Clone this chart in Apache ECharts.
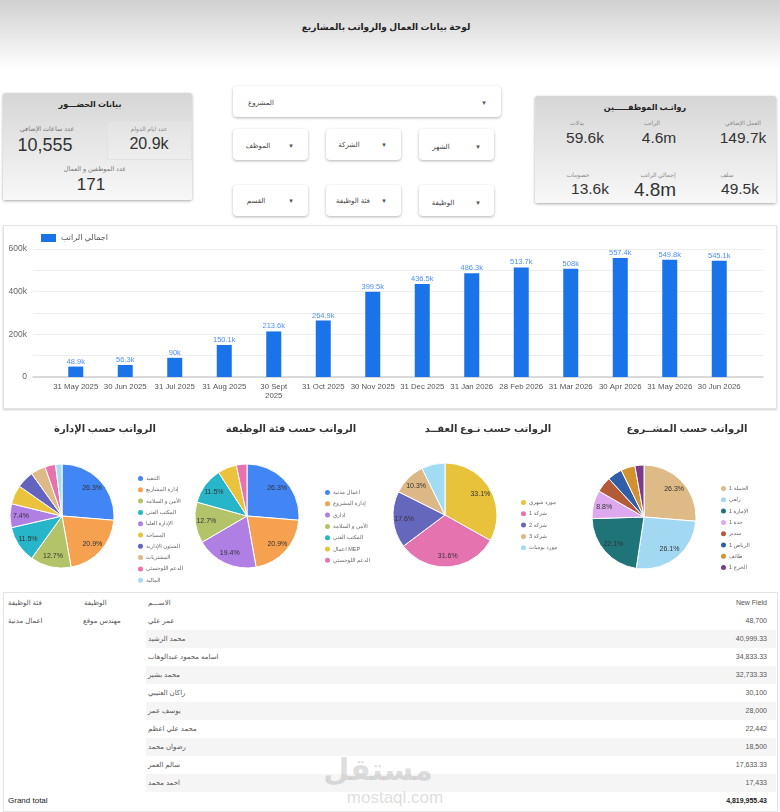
<!DOCTYPE html>
<html>
<head>
<meta charset="utf-8">
<script src="https://cdn.jsdelivr.net/npm/echarts@6/dist/echarts.min.js"></script>
<style>
  body { margin: 0; background: #fff; font-family: Arial, "Liberation Sans", "DejaVu Sans", sans-serif; }
  #page { position: relative; width: 780px; height: 812px; overflow: hidden; background: #fff; }
  .abs { position: absolute; }
  .t { position: absolute; transform: translate(-50%, -50%); white-space: nowrap; line-height: 1; }
  .hdr { left: 0; top: 0; width: 780px; height: 70px; background: linear-gradient(#d0d0d0, #fff); }
  .card { background: linear-gradient(#d6d6d6, #f8f8f8); box-shadow: 0 1px 3px rgba(0,0,0,.35); border-radius: 2px; }
  .dd { background: #fff; border-radius: 4px; box-shadow: 0 1px 3px rgba(0,0,0,.3); }
  .panel { background: #fff; border: 1px solid #e4e4e4; box-shadow: 0 1px 2px rgba(0,0,0,.2); }
  .stripe { background: #f5f5f5; }
  #chart { position: absolute; left: 0; top: 220px; width: 780px; height: 372px; }
</style>
</head>
<body>
<div id="page">
  <div class="abs hdr"></div>
  <div class="t" style="left:386px;top:27px;font-size:9px;font-weight:bold;color:#222;">لوحة بيانات العمال والرواتب بالمشاريع</div>

  <div class="abs card" style="left:3px;top:93px;width:189px;height:107px;"></div>
  <div class="abs" style="left:107px;top:121px;width:83px;height:37px;border:1px solid #e2e2e2;background:rgba(255,255,255,.15);"></div>
  <div id="attend"></div>

  <div class="abs card" style="left:535px;top:96px;width:241px;height:107px;"></div>
  <div id="pay"></div>

  <div id="filters"></div>

  <div class="abs panel" style="left:3px;top:225px;width:772px;height:182px;"></div>
  <div class="abs" style="left:3px;top:592px;width:773px;height:218px;border:1px solid #e4e4e4;"></div>
  <div id="table"></div>
  <div class="t" style="left:378px;top:770px;font-size:30px;font-weight:bold;color:rgba(140,140,140,.3);">مستقل</div>
  <div class="t" style="left:395px;top:797px;font-size:17px;color:rgba(140,140,140,.3);">mostaql.com</div>

  <div id="chart"></div>
</div>
<script>
// ---- data ----
const months = ["31 May 2025", "30 Jun 2025", "31 Jul 2025", "31 Aug 2025", "30 Sept 2025", "31 Oct 2025", "30 Nov 2025",
  "31 Dec 2025", "31 Jan 2026", "28 Feb 2026", "31 Mar 2026", "30 Apr 2026", "31 May 2026", "30 Jun 2026"];
const totalSalary = [48900, 56300, 90000, 150100, 213600, 264900, 399500, 436500, 486300, 513700, 508000, 557400, 549800, 545100];

const deptNames = ["التنفيذ", "إدارة المشاريع", "الأمن و السلامة", "المكتب الفني", "الإدارة العليا", "المساحة", "الشئون الإدارية", "المشتريات", "الدعم اللوجستي", "المالية"];
const deptShare = [26.3, 20.9, 12.7, 11.5, 7.4, 5.9, 5.4, 4.6, 3.3, 2.0];
const jobCatNames = ["اعمال مدنية", "إدارة المشروع", "اداري", "الأمن و السلامة", "المكتب الفني", "اعمال MEP", "الدعم اللوجستي"];
const jobCatShare = [26.3, 20.9, 19.4, 12.7, 11.5, 5.9, 3.3];
const contractNames = ["مورد شهري", "شركة 1", "شركة 2", "شركة 3", "مورد يوميات"];
const contractShare = [33.1, 31.6, 17.6, 10.3, 7.3];
const projectNames = ["الجبيلة 1", "زلفي", "الإمارة 1", "جدة 1", "سدير", "الرياض 1", "طائف", "الخرج 1"];
const projectShare = [26.3, 26.1, 22.1, 8.8, 4.9, 4.6, 4.4, 2.8];

const attendLabels = ["عدد ساعات الإضافي", "عدد ايام الدوام", "عدد الموظفين و العمال"];
const attendValues = ["10,555", "20.9k", "171"];
const payLabels = ["بدلات", "الراتب", "العمل الإضافي", "خصومات", "إجمالي الراتب", "سلف"];
const payValues = ["59.6k", "4.6m", "149.7k", "13.6k", "4.8m", "49.5k"];
const filterLabels = ["المشروع", "الموظف", "الشركة", "الشهر", "القسم", "فئة الوظيفة", "الوظيفة"];

const tableHeader = ["فئة الوظيفة", "الوظيفة", "الاســـم", "New Field"];
const tableCategory = "اعمال مدنية";
const tableJob = "مهندس موقع";
const tableNames = ["عمر علي", "محمد الرشيد", "اسامه محمود عبدالوهاب", "محمد بشير", "راكان العتيبي", "يوسف عمر", "محمد علي اعظم", "رضوان محمد", "سالم العمر", "احمد محمد"];
const tableValues = [48700, 40999.33, 34833.33, 32733.33, 30100, 28000, 22442, 18500, 17633.33, 17433];
const grandTotal = 4819955.43;

// ---- colours ----
const deptColors = ["#4285f4", "#f5a150", "#b3c36a", "#27b6c9", "#b07fe3", "#ebc23c", "#6464be", "#ddb986", "#e872ae", "#a5dcf5"];
const jobCatColors = ["#4285f4", "#f5a150", "#b07fe3", "#b3c36a", "#27b6c9", "#ebc23c", "#e872ae"];
const contractColors = ["#e8c23b", "#e573b0", "#6567bd", "#ddb887", "#a2dbf4"];
const projectColors = ["#ddba86", "#a2d8f2", "#1e7479", "#dda8ee", "#b55a38", "#2e5fa8", "#d3912f", "#7a3b8b"];

// ---- html parts ----
const txt = (parent, x, y, s, size, color, extra = "") => {
  const d = document.createElement("div");
  d.className = "t";
  d.style.cssText = `left:${x}px;top:${y}px;font-size:${size}px;color:${color};${extra}`;
  d.textContent = s;
  document.getElementById(parent).appendChild(d);
};

txt("attend", 90, 105, "بيانات الحضـــور", 8, "#222", "font-weight:bold;");
txt("attend", 47, 129, attendLabels[0], 6.5, "#777");
txt("attend", 45, 145, attendValues[0], 18, "#333");
txt("attend", 149, 129, attendLabels[1], 6, "#888");
txt("attend", 149, 144, attendValues[1], 16, "#333");
txt("attend", 95, 169, attendLabels[2], 6.5, "#777");
txt("attend", 91, 184, attendValues[2], 17, "#333");

txt("pay", 645, 108, "رواتـب الموظفـــــين", 8, "#222", "font-weight:bold;");
const payPos = [[577, 585, 123, 138], [652, 659, 123, 138], [743, 743, 123, 138], [578, 590, 175, 189], [658, 655, 175, 189], [727, 740, 175, 189]];
payPos.forEach((p, i) => {
  txt("pay", p[0], p[2], payLabels[i], 6, "#888");
  txt("pay", p[1], p[3], payValues[i], i === 4 ? 19 : 15.5, "#333");
});

const boxes = [[233, 86, 268, 31], [233, 129, 75, 31], [326, 129, 75, 31], [419, 129, 75, 31], [233, 185, 75, 31], [326, 185, 75, 31], [419, 185, 75, 31]];
const labelPos = [[261, 102, 484], [258, 145, 291], [349, 144, 384], [441, 146, 478], [256, 200, 291], [353, 200, 384], [443, 202, 478]];
boxes.forEach((b, i) => {
  const d = document.createElement("div");
  d.className = "abs dd";
  d.style.cssText = `left:${b[0]}px;top:${b[1]}px;width:${b[2]}px;height:${b[3]}px;`;
  document.getElementById("filters").appendChild(d);
  txt("filters", labelPos[i][0], labelPos[i][1], filterLabels[i], 7, "#444");
  txt("filters", labelPos[i][2], labelPos[i][1], "▾", 7, "#555");
});

const fmt = (v) => v.toLocaleString("en-US", { maximumFractionDigits: 2 });
const tbl = document.getElementById("table");
const cell = (top, left, s, align, extra = "") => {
  const d = document.createElement("div");
  d.className = "abs";
  d.style.cssText = `top:${top}px;${align === "r" ? "right:" + (780 - left) : "left:" + left}px;font-size:7px;color:#555;line-height:18px;white-space:nowrap;${extra}`;
  d.textContent = s;
  tbl.appendChild(d);
};
cell(594, 8, tableHeader[0], "l");
cell(594, 84, tableHeader[1], "l");
cell(594, 148, tableHeader[2], "l");
cell(594, 767, tableHeader[3], "r");
tableNames.forEach((n, i) => {
  const top = 612 + 18 * i;
  if (i % 2 === 1) {
    const s = document.createElement("div");
    s.className = "abs stripe";
    s.style.cssText = `left:146px;top:${top}px;width:630px;height:18px;`;
    tbl.appendChild(s);
  }
  if (i === 0) {
    cell(top, 8, tableCategory, "l");
    cell(top, 83, tableJob, "l");
  }
  cell(top, 148, n, "l");
  cell(top, 767, fmt(tableValues[i]), "r");
});
cell(792, 8, "Grand total", "l", "font-size:8px;color:#222;");
cell(792, 767, fmt(grandTotal), "r", "color:#222;font-weight:bold;");

// ---- echarts ----
const chart = echarts.init(document.getElementById("chart"));
const pies = [
  { title: "الرواتب حسب الإدارة", names: deptNames, values: deptShare, colors: deptColors, center: [62, 296], titleX: 100, legend: [131, 249] },
  { title: "الرواتب حسب فئة الوظيفة", names: jobCatNames, values: jobCatShare, colors: jobCatColors, center: [247, 296], titleX: 286, legend: [318, 263] },
  { title: "الرواتب حسب نـوع العقــد", names: contractNames, values: contractShare, colors: contractColors, center: [445, 295], titleX: 483, legend: [514, 273] },
  { title: "الرواتب حسب المشــروع", names: projectNames, values: projectShare, colors: projectColors, center: [644, 297], titleX: 682, legend: [714, 259] }
];

const pieSeries = [];
pies.forEach((p) => {
  pieSeries.push({
    type: "pie",
    radius: [0, 52],
    center: p.center,
    startAngle: 90,
    silent: true,
    label: { show: false },
    labelLine: { show: false },
    itemStyle: { borderColor: "#fff", borderWidth: 1 },
    data: p.names.map((n, i) => ({ name: n, value: p.values[i], itemStyle: { color: p.colors[i] } }))
  });
  // transparent twin ring: puts the percent labels at ~3/4 of the radius
  pieSeries.push({
    type: "pie",
    radius: [24, 52],
    center: p.center,
    startAngle: 90,
    silent: true,
    itemStyle: { color: "rgba(0,0,0,0)" },
    label: {
      show: true,
      position: "inside",
      fontSize: 7,
      color: "#333",
      formatter: (d) => (d.value >= 7.35 ? d.value.toFixed(1) + "%" : "")
    },
    labelLine: { show: false },
    data: p.values.map((v) => ({ value: v }))
  });
});

chart.setOption({
  animation: false,
  textStyle: { fontFamily: "Arial, 'Liberation Sans', 'DejaVu Sans', sans-serif" },
  title: pies.map((p) => ({
    text: p.title,
    left: p.titleX,
    top: 199,
    textAlign: "center",
    textStyle: { fontSize: 10, fontWeight: "bold", color: "#333" }
  })),
  legend: [
    {
      data: ["اجمالي الراتب"],
      left: 36,
      top: 9,
      icon: "rect",
      itemWidth: 15,
      itemHeight: 8,
      selectedMode: false,
      textStyle: { fontSize: 8, color: "#555" }
    }
  ].concat(
    pies.map((p) => ({
      data: p.names,
      orient: "vertical",
      left: p.legend[0],
      top: p.legend[1],
      icon: "circle",
      itemWidth: 7,
      itemHeight: 7,
      itemGap: 2.3,
      selectedMode: false,
      textStyle: { fontSize: 5.5, color: "#666", padding: [0, 0, 0, -3] }
    }))
  ),
  grid: [
    { left: 33, right: 17, top: 29, height: 128 },
    { left: 51, right: 36, top: 29, height: 128 }
  ],
  xAxis: [
    {
      gridIndex: 0,
      type: "value",
      min: 0,
      max: 1,
      axisLine: { show: true, onZero: false, lineStyle: { color: "#cfcfcf", width: 1.5 } },
      axisLabel: { show: false },
      axisTick: { show: false },
      splitLine: { show: false }
    },
    {
      gridIndex: 1,
      type: "category",
      data: months,
      axisLine: { show: false },
      axisTick: { show: false },
      axisLabel: {
        interval: 0,
        fontSize: 7.8,
        color: "#555",
        margin: 5,
        lineHeight: 9.5,
        formatter: (v) => (v.length > 11 ? v.replace(/ (\d{4})$/, "\n$1") : v)
      }
    }
  ],
  yAxis: [
    {
      gridIndex: 0,
      type: "value",
      min: 0,
      max: 600000,
      interval: 100000,
      axisLine: { show: false },
      axisTick: { show: false },
      axisLabel: {
        fontSize: 8.5,
        color: "#666",
        margin: 6,
        formatter: (v) => (v % 200000 === 0 ? (v === 0 ? "0" : v / 1000 + "k") : "")
      },
      splitLine: { lineStyle: { color: "#eeeeee" } }
    },
    { gridIndex: 1, type: "value", min: 0, max: 600000, show: false }
  ],
  series: [
    {
      name: "اجمالي الراتب",
      type: "bar",
      xAxisIndex: 1,
      yAxisIndex: 1,
      barWidth: 15,
      data: totalSalary,
      itemStyle: { color: "#1a73e8" },
      label: {
        show: true,
        position: "top",
        distance: 1,
        fontSize: 7.5,
        color: "#4f8ff2",
        formatter: (d) => +(d.value / 1000).toFixed(1) + "k"
      }
    }
  ].concat(pieSeries)
});
</script>
</body>
</html>
